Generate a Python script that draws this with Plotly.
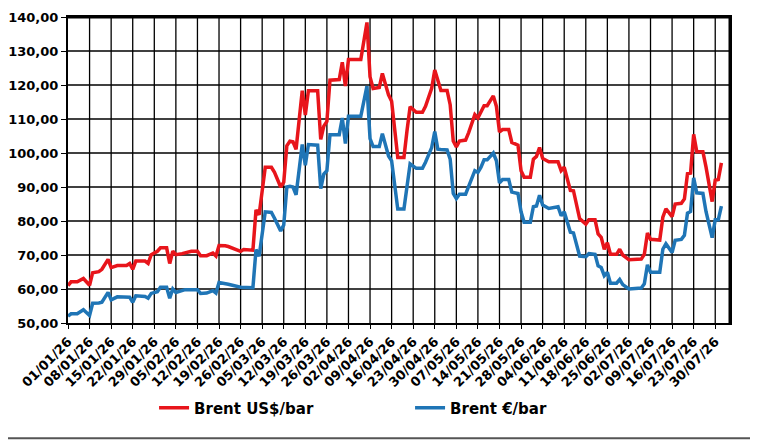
import pandas as pd
import plotly.graph_objects as go

# daily quotes (gaps = flat stretches)
dates = [
    "2026-01-01", "2026-01-02", "2026-01-04", "2026-01-06", "2026-01-08", "2026-01-09",
    "2026-01-11", "2026-01-12", "2026-01-14", "2026-01-15", "2026-01-17", "2026-01-20",
    "2026-01-21", "2026-01-22", "2026-01-23", "2026-01-26", "2026-01-27", "2026-01-28",
    "2026-01-30", "2026-01-31", "2026-02-02", "2026-02-03", "2026-02-04", "2026-02-05",
    "2026-02-07", "2026-02-08", "2026-02-10", "2026-02-12", "2026-02-13", "2026-02-15",
    "2026-02-17", "2026-02-18", "2026-02-19", "2026-02-21", "2026-02-22", "2026-02-26",
    "2026-02-27", "2026-03-02", "2026-03-03", "2026-03-04", "2026-03-06", "2026-03-08",
    "2026-03-09", "2026-03-11", "2026-03-12", "2026-03-13", "2026-03-14", "2026-03-15",
    "2026-03-16", "2026-03-18", "2026-03-19", "2026-03-20", "2026-03-23", "2026-03-24",
    "2026-03-25", "2026-03-26", "2026-03-27", "2026-03-30", "2026-03-31", "2026-04-01",
    "2026-04-02", "2026-04-06", "2026-04-08", "2026-04-09", "2026-04-10", "2026-04-12",
    "2026-04-13", "2026-04-15", "2026-04-16", "2026-04-18", "2026-04-20", "2026-04-21",
    "2026-04-22", "2026-04-24", "2026-04-26", "2026-04-27", "2026-04-29", "2026-04-30",
    "2026-05-01", "2026-05-02", "2026-05-04", "2026-05-05", "2026-05-06", "2026-05-07",
    "2026-05-08", "2026-05-10", "2026-05-11", "2026-05-13", "2026-05-14", "2026-05-15",
    "2026-05-16", "2026-05-17", "2026-05-19", "2026-05-20", "2026-05-21", "2026-05-22",
    "2026-05-24", "2026-05-25", "2026-05-27", "2026-05-28", "2026-05-29", "2026-05-31",
    "2026-06-01", "2026-06-02", "2026-06-03", "2026-06-04", "2026-06-06", "2026-06-09",
    "2026-06-10", "2026-06-11", "2026-06-13", "2026-06-14", "2026-06-16", "2026-06-18",
    "2026-06-19", "2026-06-21", "2026-06-22", "2026-06-23", "2026-06-24", "2026-06-25",
    "2026-06-26", "2026-06-28", "2026-06-29", "2026-06-30", "2026-07-02", "2026-07-06",
    "2026-07-07", "2026-07-08", "2026-07-09", "2026-07-12", "2026-07-13", "2026-07-14",
    "2026-07-16", "2026-07-17", "2026-07-19", "2026-07-20", "2026-07-21", "2026-07-22",
    "2026-07-23", "2026-07-24", "2026-07-26", "2026-07-27", "2026-07-29", "2026-07-30",
    "2026-07-31", "2026-08-01",
]

brent_usd = [
    61.0, 62.1, 62.1, 63.1, 61.1, 64.8,
    65.1, 65.8, 68.7, 66.3, 66.9, 66.9,
    67.5, 65.8, 68.2, 68.2, 67.5, 70.1,
    71.1, 72.1, 72.1, 67.5, 71.1, 70.1,
    70.4, 70.6, 71.1, 71.1, 69.8, 69.8,
    70.6, 69.7, 72.8, 72.7, 72.5, 71.1,
    71.6, 71.4, 83.3, 81.8, 95.8, 95.8,
    94.3, 90.0, 91.4, 102.1, 103.5, 103.3,
    101.1, 118.3, 111.2, 118.3, 118.3, 104.0,
    107.9, 109.3, 121.4, 121.6, 126.7, 119.7,
    127.5, 127.5, 138.4, 122.4, 119.0, 119.3,
    123.4, 117.1, 115.2, 98.7, 98.7, 106.6,
    113.6, 112.0, 112.0, 113.7, 119.0, 124.4,
    121.0, 118.4, 118.4, 114.2, 103.5, 101.8,
    103.5, 103.8, 106.0, 111.3, 110.3, 112.3,
    113.9, 113.9, 116.8, 113.7, 106.2, 106.9,
    106.9, 103.1, 102.3, 94.8, 92.9, 92.9,
    98.2, 99.0, 101.6, 98.4, 97.4, 97.4,
    94.8, 95.8, 89.0, 88.9, 80.7, 79.1,
    80.4, 80.4, 76.2, 75.2, 71.7, 73.6,
    70.2, 70.2, 71.7, 70.0, 68.6, 68.8,
    70.2, 76.5, 74.6, 74.4, 81.1, 83.6,
    81.3, 85.0, 85.2, 86.5, 93.9, 94.1,
    105.5, 100.4, 100.4, 95.9, 85.7, 92.0,
    92.2, 97.1,
]

brent_eur = [
    52.0, 52.7, 52.7, 53.9, 52.2, 55.8,
    55.9, 56.1, 59.0, 56.8, 57.7, 57.7,
    57.6, 56.1, 58.0, 57.8, 57.3, 58.7,
    59.2, 60.5, 60.5, 57.3, 60.0, 59.0,
    59.7, 59.8, 59.8, 59.8, 58.7, 58.8,
    59.5, 58.8, 61.9, 61.6, 61.4, 60.5,
    60.5, 60.4, 71.6, 69.6, 82.7, 82.5,
    80.8, 77.1, 78.8, 90.0, 90.2, 90.0,
    87.7, 102.5, 96.4, 102.5, 102.3, 89.5,
    93.8, 94.8, 105.4, 105.4, 110.3, 102.8,
    110.8, 110.8, 119.7, 104.2, 101.9, 101.9,
    105.7, 99.1, 97.7, 83.5, 83.5, 90.8,
    96.8, 95.5, 95.5, 97.3, 101.6, 106.3,
    101.1, 101.0, 100.9, 98.2, 88.1, 86.6,
    87.9, 87.9, 90.0, 94.8, 94.3, 95.8,
    98.0, 98.0, 100.0, 97.7, 91.2, 92.2,
    92.2, 88.5, 88.1, 82.7, 79.6, 79.6,
    84.2, 84.4, 87.6, 84.7, 83.7, 84.2,
    81.6, 82.7, 76.7, 76.5, 69.7, 69.5,
    70.4, 70.2, 66.8, 66.3, 63.9, 64.9,
    61.7, 61.7, 62.8, 61.3, 60.0, 60.3,
    61.5, 67.1, 64.9, 64.9, 71.7, 73.3,
    70.7, 74.3, 74.6, 75.8, 82.3, 82.8,
    92.7, 88.3, 88.1, 82.8, 75.1, 80.4,
    80.4, 84.4,
]

RED = "#E8151B"
BLUE = "#1F75B6"
X_START, X_END = "2026-01-01", "2026-08-03 19:00"
Y_MIN, Y_MAX, Y_STEP = 50, 140, 10
font_b = dict(family="DejaVu Sans", size=13, color="black", weight="bold")

fig = go.Figure()
fig.add_trace(go.Scatter(x=dates, y=brent_usd, mode="lines", name="Brent US$/bar",
                         line=dict(color=RED, width=3.5)))
fig.add_trace(go.Scatter(x=dates, y=brent_eur, mode="lines", name="Brent €/bar",
                         line=dict(color=BLUE, width=3.5)))

fig.update_layout(
    xaxis=dict(
        type="date", range=[X_START, X_END],
        tick0=X_START, dtick=7 * 86400000, tickformat="%d/%m/%y", tickangle=-45,
        tickfont=font_b, ticks="outside", ticklen=4, tickcolor="#000000",
        showgrid=False,
        showline=True, linecolor="#000000", linewidth=2, mirror=True, zeroline=False,
    ),
    yaxis=dict(
        range=[Y_MIN, Y_MAX], dtick=Y_STEP, tickformat=".2f", tickfont=font_b,
        ticks="outside", ticklen=5, tickcolor="#000000",
        showgrid=False,
        showline=True, linecolor="#000000", linewidth=2, mirror=True, zeroline=False,
    ),
)

# grid as shapes: thin vertical lines, horizontal ones as hairline filled bands
for d in pd.date_range(X_START, "2026-08-01", freq="7D")[1:]:
    fig.add_shape(type="line", xref="x", yref="y", x0=d, x1=d, y0=Y_MIN, y1=Y_MAX,
                  line=dict(color="black", width=1.3), layer="between")
for v in range(Y_MIN + Y_STEP, Y_MAX, Y_STEP):
    fig.add_shape(type="rect", xref="paper", yref="y", x0=0, x1=1, y0=v - 0.19, y1=v + 0.19,
                  fillcolor="black", line=dict(width=0), layer="between")

# heavier top / right frame and the grey outer border
fig.add_shape(type="rect", xref="paper", yref="paper", x0=0, x1=1, y0=0.995, y1=1.005,
              fillcolor="black", line=dict(width=0))
fig.add_shape(type="line", xref="paper", yref="paper", x0=1, x1=1, y0=0, y1=1,
              line=dict(color="black", width=3))
fig.add_shape(type="rect", xref="paper", yref="paper", x0=-0.2, x1=1.039, y0=-0.377, y1=1.2,
              line=dict(color="#555555", width=2))

# the page body adds an 8px offset, so the figure is 8px smaller than the window
fig.update_layout(
    template="none",
    width=750, height=434,
    margin=dict(l=60, r=28, t=9, b=119),
    paper_bgcolor="white", plot_bgcolor="rgba(0,0,0,0)",
    separators=",.",
    showlegend=True,
    legend=dict(orientation="h", x=0.130, xanchor="left", y=-0.278, yanchor="middle",
                font=dict(family="DejaVu Sans", size=15, color="black", weight="bold"),
                entrywidth=211, entrywidthmode="pixels", bgcolor="rgba(0,0,0,0)"),
)

fig.write_html("out.html")
